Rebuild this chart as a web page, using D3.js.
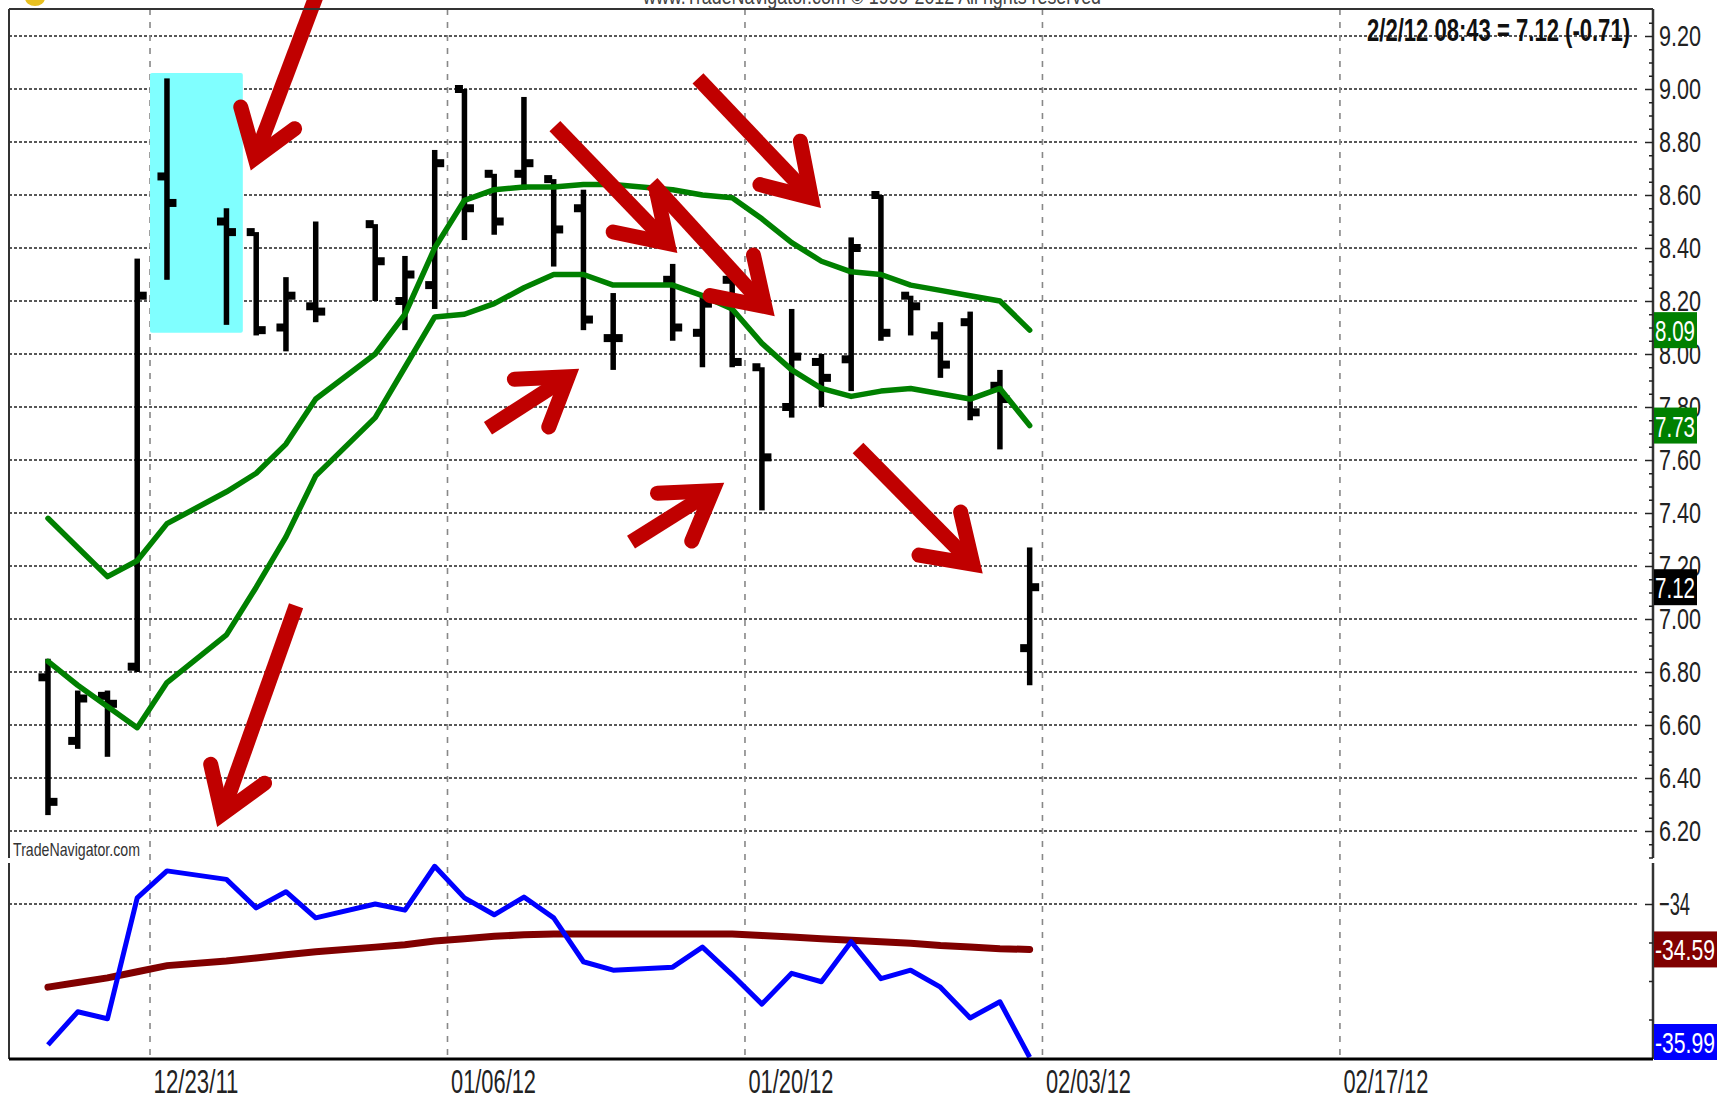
<!doctype html>
<html lang="en">
<head>
  <meta charset="utf-8">
  <title>Daily bars with moving averages and oscillator</title>
  <script src="https://d3js.org/d3.v7.min.js"></script>
  <style>
    body { margin: 0; background: #fff; }
    text { font-family: "Liberation Sans", Arial, sans-serif; }
  </style>
</head>
<body>
<svg id="chart" width="1718" height="1096"></svg>

<script>
// ---- data ----
var dates = ["12/19/11","12/20/11","12/21/11","12/22/11","12/23/11","12/27/11","12/28/11","12/29/11","12/30/11",
  "01/03/12","01/04/12","01/05/12","01/06/12","01/09/12","01/10/12","01/11/12","01/12/12","01/13/12",
  "01/17/12","01/18/12","01/19/12","01/20/12","01/23/12","01/24/12","01/25/12","01/26/12","01/27/12",
  "01/30/12","01/31/12","02/01/12","02/02/12"];
var open  = [6.78,6.54,6.71,6.82,8.67,8.50,8.46,8.10,8.18,8.49,8.20,8.26,9.00,8.68,8.68,8.66,8.55,8.06,8.28,8.08,8.28,7.95,7.80,7.97,7.98,8.60,8.22,8.07,8.12,7.88,6.89];
var high  = [6.85,6.73,6.73,8.36,9.04,8.55,8.46,8.29,8.50,8.49,8.37,8.77,9.00,8.68,8.97,8.66,8.62,8.23,8.34,8.22,8.28,7.95,8.17,8.00,8.44,8.60,8.22,8.12,8.16,7.94,7.27];
var low   = [6.26,6.51,6.48,6.80,8.28,8.11,8.07,8.01,8.12,8.20,8.09,8.17,8.43,8.45,8.62,8.33,8.09,7.94,8.05,7.95,7.95,7.41,7.76,7.80,7.86,8.05,8.07,7.91,7.75,7.64,6.75];
var close = [6.31,6.70,6.68,8.22,8.57,8.46,8.09,8.22,8.16,8.35,8.30,8.72,8.55,8.50,8.72,8.47,8.13,8.06,8.10,8.19,7.97,7.61,7.99,7.91,8.40,8.08,8.18,7.96,7.78,7.83,7.12];
var maUpper = [7.38,7.27,7.16,7.22,7.36,7.48,7.55,7.66,7.83,8.00,8.15,8.40,8.58,8.62,8.63,8.63,8.64,8.64,8.62,8.60,8.59,8.51,8.42,8.35,8.31,8.30,8.26,8.24,8.22,8.20,8.09];
var maLower = [6.84,6.75,6.67,6.59,6.76,6.94,7.12,7.31,7.54,7.76,7.95,8.14,8.15,8.19,8.25,8.30,8.30,8.26,8.26,8.22,8.17,8.04,7.94,7.87,7.84,7.86,7.87,7.85,7.83,7.87,7.73];
var oscFast = [-35.83,-35.40,-35.49,-33.92,-33.57,-33.68,-34.05,-33.84,-34.18,-34.00,-34.08,-33.51,-33.92,-34.14,-33.91,-34.18,
  -34.75,-34.86,-34.82,-34.56,-34.92,-35.30,-34.90,-35.01,-34.49,-34.97,-34.86,-35.08,-35.48,-35.27,-35.99];
var oscSlow = [-35.08,-35.02,-34.96,-34.88,-34.80,-34.74,-34.70,-34.66,-34.62,-34.56,-34.53,-34.48,-34.45,-34.42,-34.40,-34.39,
  -34.39,-34.39,-34.39,-34.39,-34.39,-34.41,-34.43,-34.45,-34.47,-34.49,-34.51,-34.54,-34.56,-34.58,-34.59];

var priceTicks = [6.2,6.4,6.6,6.8,7.0,7.2,7.4,7.6,7.8,8.0,8.2,8.4,8.6,8.8,9.0,9.2];
var oscTicks = [-34];
var oscMinorTicks = [-34.5,-35,-35.5];
var gridDates = ["12/23/11","01/06/12","01/20/12","02/03/12","02/17/12"];
var quoteTime = "08:43";
var watermark = "www.TradeNavigator.com \u00a9 1999-2012 All rights reserved";
var brand = "TradeNavigator.com";

// hand drawn annotations, in (trading day, price) units
var arrows = [
  {tail: [9.08, 9.37],  tip: [6.76, 8.68],  left: [6.45, 8.96],  right: [8.47, 8.87]},
  {tail: [8.34, 7.05],  tip: [5.65, 6.20],  left: [5.45, 6.48],  right: [7.46, 6.40]},
  {tail: [14.79, 7.72], tip: [17.98, 7.95], left: [15.43, 7.90], right: [16.71, 7.70]},
  {tail: [19.60, 7.29], tip: [22.86, 7.52], left: [20.24, 7.47], right: [21.51, 7.27]},
  {tail: [20.30, 8.645],tip: [24.50, 8.13], left: [22.02, 8.23], right: [23.63, 8.40]},
  {tail: [17.04, 8.86], tip: [21.24, 8.37], left: [18.76, 8.47], right: [20.37, 8.64]},
  {tail: [21.85, 9.04], tip: [26.08, 8.54], left: [23.70, 8.65], right: [25.21, 8.83]},
  {tail: [27.23, 7.645],tip: [31.50, 7.16], left: [29.04, 7.25], right: [30.59, 7.43]}
];
var highlight = {from: 3.43, to: 6.55, top: 9.06, bottom: 8.08};

// ---- setup ----
var svg = d3.select("#chart"),
  width = +svg.attr("width"),
  height = +svg.attr("height");

var left = 9, right = 1653;
var priceTop = 9, priceBottom = 858, oscTop = 863, oscBottom = 1059;
var gridOffset = 0.57;

var fmt = d3.formatLocale({decimal: ".", thousands: ",", grouping: [3], currency: ["$", ""], minus: "-"}).format(".2f");
var parse = d3.timeParse("%m/%d/%y");
var first = parse(dates[0]);
function tradeIndex(s) {
  var d = parse(s);
  return d3.timeDay.count(first, d) - d3.timeSaturday.count(first, d) - d3.timeSunday.count(first, d);
}

var bars = dates.map(function(d, i) {
  return {i: tradeIndex(d), o: open[i], h: high[i], l: low[i], c: close[i],
          up: maUpper[i], lo: maLower[i], fast: oscFast[i], slow: oscSlow[i]};
});

var x = d3.scaleLinear().domain([-1.31, 53.92]).range([left, right - 1]);
var yPrice = d3.scaleLinear().domain([6.2, 9.2]).range([831, 36]);
var yOsc = d3.scaleLinear().domain([-36, -34]).range([1058, 904]);

svg.append("rect").attr("width", width).attr("height", height).attr("fill", "#fff");

// ---- grid ----
var grid = svg.append("g");
grid.selectAll(".hgrid")
  .data(priceTicks)
  .enter().append("line")
    .attr("x1", left).attr("x2", right - 16)
    .attr("y1", function(d) { return yPrice(d); })
    .attr("y2", function(d) { return yPrice(d); })
    .attr("stroke", "#222").attr("stroke-width", 1.4).attr("stroke-dasharray", "3,2");
grid.selectAll(".ogrid")
  .data(oscTicks)
  .enter().append("line")
    .attr("x1", left).attr("x2", right - 16)
    .attr("y1", function(d) { return yOsc(d); })
    .attr("y2", function(d) { return yOsc(d); })
    .attr("stroke", "#222").attr("stroke-width", 1.4).attr("stroke-dasharray", "3,2");
grid.selectAll(".vgrid")
  .data(gridDates)
  .enter().append("line")
    .attr("x1", function(d) { return x(tradeIndex(d) - gridOffset); })
    .attr("x2", function(d) { return x(tradeIndex(d) - gridOffset); })
    .attr("y1", priceTop).attr("y2", oscBottom)
    .attr("stroke", "#888").attr("stroke-width", 1.6).attr("stroke-dasharray", "6,7");

// highlight box
svg.append("rect")
  .attr("x", x(highlight.from)).attr("y", yPrice(highlight.top))
  .attr("width", x(highlight.to) - x(highlight.from))
  .attr("height", yPrice(highlight.bottom) - yPrice(highlight.top))
  .attr("rx", 2).attr("fill", "#80ffff");

// ---- price bars ----
var barG = svg.append("g").attr("fill", "#000");
barG.selectAll(".hl")
  .data(bars)
  .enter().append("rect")
    .attr("x", function(d) { return x(d.i) - 2.75; })
    .attr("width", 5.5)
    .attr("y", function(d) { return yPrice(d.h); })
    .attr("height", function(d) { return yPrice(d.l) - yPrice(d.h); });
barG.selectAll(".op")
  .data(bars)
  .enter().append("rect")
    .attr("x", function(d) { return x(d.i) - 9.5; })
    .attr("width", 8)
    .attr("y", function(d) { return yPrice(d.o) - 4; })
    .attr("height", 8);
barG.selectAll(".cl")
  .data(bars)
  .enter().append("rect")
    .attr("x", function(d) { return x(d.i) + 1.5; })
    .attr("width", 8)
    .attr("y", function(d) { return yPrice(d.c) - 4; })
    .attr("height", 8);

// moving averages
var maLine = function(key) {
  return d3.line().x(function(d) { return x(d.i); }).y(function(d) { return yPrice(d[key]); });
};
["up", "lo"].forEach(function(k) {
  svg.append("path")
    .datum(bars)
    .attr("d", maLine(k))
    .attr("fill", "none").attr("stroke", "#008000").attr("stroke-width", 5.5)
    .attr("stroke-linejoin", "round").attr("stroke-linecap", "round");
});

// ---- oscillator ----
var oscLine = function(key) {
  return d3.line().x(function(d) { return x(d.i); }).y(function(d) { return yOsc(d[key]); });
};
svg.append("path").datum(bars).attr("d", oscLine("slow"))
  .attr("fill", "none").attr("stroke", "#800000").attr("stroke-width", 7)
  .attr("stroke-linecap", "round");
svg.append("path").datum(bars).attr("d", oscLine("fast"))
  .attr("fill", "none").attr("stroke", "#0000ff").attr("stroke-width", 5)
  .attr("stroke-linejoin", "round");

// ---- annotation arrows ----
var arrowG = svg.append("g").attr("fill", "none").attr("stroke", "#c00000");
var aw = 15;
function pt(p) { return [x(p[0]), yPrice(p[1])]; }
function toward(a, b, dist) {
  var dx = b[0] - a[0], dy = b[1] - a[1], len = Math.hypot(dx, dy);
  return [a[0] + dx / len * dist, a[1] + dy / len * dist];
}
arrows.forEach(function(a) {
  var t = pt(a.tail), p = pt(a.tip);
  var l = toward(pt(a.left), p, aw / 2), r = toward(pt(a.right), p, aw / 2);
  var v1 = [l[0] - p[0], l[1] - p[1]], v2 = [r[0] - p[0], r[1] - p[1]];
  var ang = Math.acos((v1[0] * v2[0] + v1[1] * v2[1]) / (Math.hypot(v1[0], v1[1]) * Math.hypot(v2[0], v2[1])));
  var inset = (aw / 2) / Math.sin(ang / 2);
  var v = toward(p, t, inset);
  arrowG.append("line")
    .attr("x1", t[0]).attr("y1", t[1]).attr("x2", v[0]).attr("y2", v[1])
    .attr("stroke-width", aw);
  arrowG.append("path")
    .attr("d", d3.line()([l, v, r]))
    .attr("stroke-width", aw).attr("stroke-linecap", "round")
    .attr("stroke-linejoin", "miter").attr("stroke-miterlimit", 10);
});

// ---- frame ----
var frame = svg.append("g").attr("stroke", "#333");
frame.append("line").attr("x1", left).attr("x2", right).attr("y1", priceTop).attr("y2", priceTop).attr("stroke-width", 2);
frame.append("line").attr("x1", left).attr("x2", left).attr("y1", priceTop).attr("y2", priceBottom).attr("stroke-width", 2);
frame.append("line").attr("x1", left).attr("x2", left).attr("y1", oscTop).attr("y2", oscBottom).attr("stroke-width", 2);
frame.append("line").attr("x1", right).attr("x2", right).attr("y1", priceTop).attr("y2", priceBottom).attr("stroke-width", 2.5);
frame.append("line").attr("x1", right).attr("x2", right).attr("y1", oscTop).attr("y2", oscBottom).attr("stroke-width", 2.5);
frame.append("line").attr("x1", left).attr("x2", right).attr("y1", oscBottom).attr("y2", oscBottom)
  .attr("stroke", "#000").attr("stroke-width", 3);

// ---- axes ----
function styleAxis(g, size, len) {
  g.select(".domain").remove();
  g.selectAll("line").attr("stroke", "#222").attr("stroke-width", 1.5);
  g.selectAll("text").attr("font-size", size).attr("fill", "#222")
    .attr("textLength", len).attr("lengthAdjust", "spacingAndGlyphs");
}
var minorPrice = d3.range(122, 186).filter(function(k) { return k % 4 !== 0; }).map(function(k) { return k / 20; });
svg.append("g").attr("transform", "translate(" + right + ",0)")
  .call(d3.axisRight(yPrice).tickValues(minorPrice).tickFormat("").tickSizeInner(-4).tickSizeOuter(0))
  .call(styleAxis, 30, 1);
svg.append("g").attr("transform", "translate(" + right + ",0)")
  .call(d3.axisRight(yPrice).tickValues(priceTicks).tickFormat(fmt).tickSizeInner(-8).tickSizeOuter(0).tickPadding(6))
  .call(styleAxis, 30, 42);
svg.append("g").attr("transform", "translate(" + right + ",0)")
  .call(d3.axisRight(yOsc).tickValues(oscMinorTicks).tickFormat("").tickSizeInner(-4).tickSizeOuter(0))
  .call(styleAxis, 30, 1);
svg.append("g").attr("transform", "translate(" + right + ",0)")
  .call(d3.axisRight(yOsc).tickValues(oscTicks).tickFormat(d3.format("d")).tickSizeInner(-8).tickSizeOuter(0).tickPadding(6))
  .call(styleAxis, 32, 31);
svg.selectAll("text").filter(function() { return this.textContent === ""; }).remove();

var gx = svg.append("g").attr("transform", "translate(0," + oscBottom + ")")
  .call(d3.axisBottom(x)
    .tickValues(gridDates.map(function(d) { return tradeIndex(d) - gridOffset; }))
    .tickFormat(function(d, i) { return gridDates[i]; })
    .tickSize(0).tickPadding(10));
gx.select(".domain").remove();
gx.selectAll("text").attr("text-anchor", "start").attr("x", 3)
  .attr("font-size", 34).attr("fill", "#222")
  .attr("textLength", 85).attr("lengthAdjust", "spacingAndGlyphs");

// ---- last value boxes ----
var last = bars[bars.length - 1];
var tags = [
  {v: last.up, y: yPrice(last.up), fill: "#008000", w: 43, top: priceTop, bottom: priceBottom},
  {v: last.lo, y: yPrice(last.lo), fill: "#008000", w: 43, top: priceTop, bottom: priceBottom},
  {v: last.c, y: yPrice(last.c), fill: "#000", w: 43, top: priceTop, bottom: priceBottom},
  {v: last.slow, y: yOsc(last.slow), fill: "#800000", w: 63, top: oscTop, bottom: oscBottom + 1},
  {v: last.fast, y: yOsc(last.fast), fill: "#0000ff", w: 63, top: oscTop, bottom: oscBottom + 1}
];
var tagG = svg.selectAll(".tag").data(tags).enter().append("g");
tagG.append("rect")
  .attr("x", right + 1).attr("width", function(d) { return d.w; })
  .attr("y", function(d) { return Math.max(d.top, Math.min(d.y - 18, d.bottom - 36)); })
  .attr("height", 36)
  .attr("fill", function(d) { return d.fill; });
tagG.append("text")
  .attr("x", right + 2)
  .attr("y", function(d) { return Math.max(d.top, Math.min(d.y - 18, d.bottom - 36)) + 29; })
  .attr("font-size", 30).attr("fill", "#fff")
  .attr("textLength", function(d) { return d.w - 3; }).attr("lengthAdjust", "spacingAndGlyphs")
  .text(function(d) { return fmt(d.v); });

// ---- texts ----
var prev = bars[bars.length - 2];
svg.append("text")
  .attr("x", 1367).attr("y", 41)
  .attr("font-size", 31).attr("font-weight", "bold").attr("fill", "#111")
  .attr("textLength", 263).attr("lengthAdjust", "spacingAndGlyphs")
  .text(d3.timeFormat("%-m/%-d/%y")(parse(dates[dates.length - 1])) + " " + quoteTime + " = " +
        fmt(last.c) + " (" + fmt(last.c - prev.c) + ")");

svg.append("text")
  .attr("x", 643).attr("y", 4)
  .attr("font-size", 22).attr("fill", "#444")
  .attr("textLength", 458).attr("lengthAdjust", "spacingAndGlyphs")
  .text(watermark);

svg.append("ellipse").attr("cx", 35).attr("cy", -2).attr("rx", 10).attr("ry", 8).attr("fill", "#e8c020");

svg.append("text")
  .attr("x", 13).attr("y", 856)
  .attr("font-size", 19).attr("fill", "#333")
  .attr("textLength", 127).attr("lengthAdjust", "spacingAndGlyphs")
  .text(brand);
</script>
</body>
</html>
